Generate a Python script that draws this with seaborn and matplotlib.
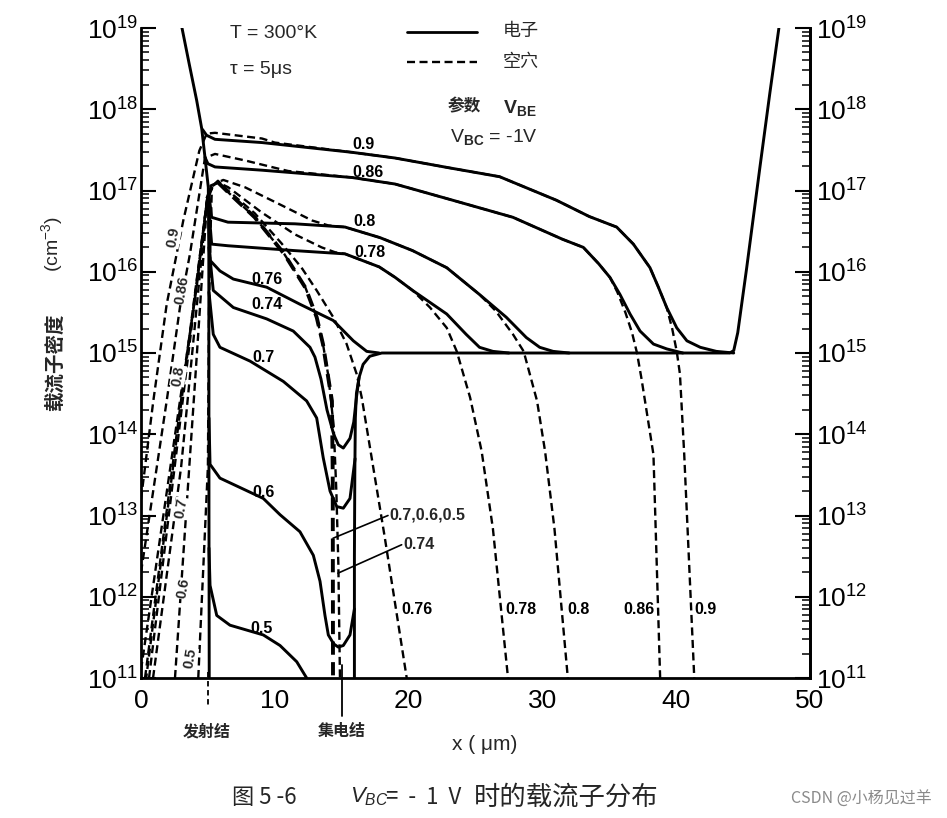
import numpy as np
import pandas as pd
import matplotlib
matplotlib.use("Agg")
import matplotlib.pyplot as plt
import matplotlib.transforms as mtransforms
from matplotlib.ticker import FixedLocator, FuncFormatter, NullFormatter
import seaborn as sns

# ---------------- data: x in micrometres, concentration as log10 exponent ----------------
# electrons (solid)
emitter_e_x = [3.04, 3.6, 4.16, 4.54, 4.78, 5.03, 5.07, 5.08, 5.1]
emitter_e_log = [19.02, 18.56, 18.11, 17.76, 17.41, 17.04, 16.2, 13.0, 10.9]

collector_e_x = [15.95, 15.95, 15.98, 16.02, 16.1, 16.3, 16.6, 17.1, 18.0, 44.0, 44.3, 44.6,
                 45.27, 46.26, 47.0, 47.76, 47.9]
collector_e_log = [10.9, 12.5, 13.5, 14.2, 14.5, 14.7, 14.86, 14.96, 15.0, 15.0, 15.03, 15.25,
                   16.05, 17.29, 18.2, 19.1, 19.3]

e090_x = [4.6, 4.9, 5.53, 9.04, 15.77, 18.98, 23.0, 26.8, 31.05, 33.5, 35.55, 36.8, 38.04, 38.67,
          39.29, 40.04, 40.8, 41.8, 43.0, 44.3]
e090_log = [17.75, 17.68, 17.63, 17.59, 17.47, 17.40, 17.28, 17.17, 16.88, 16.68, 16.55, 16.34,
            16.05, 15.81, 15.56, 15.31, 15.15, 15.07, 15.02, 15.0]

e086_x = [4.78, 5.0, 5.53, 9.04, 15.77, 18.98, 23.3, 27.8, 31.5, 33.06, 34.2, 35.05, 35.8, 36.55,
          37.3, 38.3, 39.3, 40.5]
e086_log = [17.41, 17.33, 17.29, 17.25, 17.16, 17.08, 16.88, 16.67, 16.40, 16.30, 16.1, 15.93,
            15.72, 15.48, 15.27, 15.11, 15.05, 15.0]

e080_x = [5.08, 5.28, 6.5, 11.5, 15.25, 17.86, 20.3, 22.85, 25.3, 27.3, 28.8, 29.8, 30.8, 32.0]
e080_log = [16.95, 16.67, 16.61, 16.59, 16.55, 16.42, 16.26, 16.05, 15.72, 15.44, 15.19, 15.07,
            15.02, 15.0]

e078_x = [5.08, 5.28, 6.5, 11.5, 15.25, 17.8, 19.0, 20.3, 22.85, 24.3, 25.3, 26.3, 27.5]
e078_log = [16.75, 16.34, 16.32, 16.26, 16.22, 16.06, 15.93, 15.77, 15.48, 15.23, 15.07, 15.02,
            15.0]

e076_x = [5.08, 5.16, 5.9, 6.9, 9.39, 11.88, 14.37, 15.87, 16.87, 17.8]
e076_log = [16.6, 16.14, 16.01, 15.91, 15.81, 15.60, 15.40, 15.15, 15.02, 15.0]

e074_x = [5.08, 5.4, 6.9, 9.39, 11.38, 12.63, 13.0, 13.45, 13.9, 14.4, 14.75, 15.12, 15.62, 15.9,
          16.1, 16.3]
e074_log = [16.3, 15.77, 15.56, 15.42, 15.27, 15.07, 14.95, 14.68, 14.3, 14.0, 13.87, 13.83, 13.95,
            14.15, 14.45, 14.7]

e070_x = [5.08, 5.4, 5.9, 8.15, 10.64, 12.38, 13.13, 13.62, 14.13, 14.63, 15.12, 15.62, 16.0]
e070_log = [15.75, 15.23, 15.07, 14.90, 14.65, 14.41, 14.2, 13.71, 13.30, 13.11, 13.09, 13.21, 13.7]

e060_x = [5.08, 5.16, 5.9, 9.14, 10.39, 11.88, 12.88, 13.38, 13.75, 14.0, 14.4, 14.75, 15.12,
          15.62, 15.95]
e060_log = [14.2, 13.63, 13.46, 13.21, 13.01, 12.80, 12.51, 12.19, 11.77, 11.53, 11.42, 11.38,
            11.40, 11.53, 11.85]

e050_x = [5.08, 5.16, 5.66, 6.65, 9.14, 10.39, 11.64, 12.38, 12.6]
e050_log = [12.6, 12.14, 11.77, 11.65, 11.53, 11.40, 11.2, 11.0, 10.9]

# holes (dashed)
h090_x = [0.0, 0.92, 1.92, 3.16, 4.36, 4.91, 5.53, 9.04, 10.0, 15.77, 18.98, 23.0, 26.8, 31.05,
          33.5, 35.55, 36.8, 38.04, 38.67, 39.29, 39.7, 40.04, 40.28, 40.6, 41.35, 41.45]
h090_log = [13.2, 14.41, 15.60, 16.63, 17.49, 17.70, 17.71, 17.64, 17.59, 17.47, 17.40, 17.28,
            17.17, 16.88, 16.68, 16.55, 16.34, 16.05, 15.81, 15.56, 15.30, 15.02, 14.74, 13.75,
            11.0, 10.7]

h086_x = [0.0, 1.92, 2.91, 3.66, 4.78, 5.53, 7.77, 10.24, 11.0, 15.77, 18.98, 23.3, 27.8, 31.5,
          33.06, 34.2, 35.05, 35.6, 36.2, 36.7, 37.07, 37.4, 38.3, 38.8, 38.9]
h086_log = [12.3, 14.41, 15.56, 16.22, 17.40, 17.45, 17.37, 17.27, 17.24, 17.16, 17.08, 16.88,
            16.67, 16.40, 16.30, 16.1, 15.93, 15.75, 15.50, 15.25, 15.0, 14.69, 13.75, 11.0, 10.7]

h080_x = [0.0, 2.91, 4.16, 4.95, 5.2, 6.15, 7.77, 10.24, 12.8, 14.0, 15.25, 17.86, 20.3, 22.85,
          25.3, 26.5, 27.8, 28.6, 29.6, 30.2, 30.9, 31.9, 32.0]
h080_log = [11.1, 14.41, 15.81, 16.9, 17.06, 17.13, 17.04, 16.84, 16.63, 16.57, 16.55, 16.42,
            16.26, 16.05, 15.72, 15.52, 15.23, 15.02, 14.41, 13.79, 12.84, 11.0, 10.8]

h078_x = [0.0, 4.95, 5.3, 5.75, 6.52, 9.02, 11.5, 13.5, 14.5, 15.25, 17.8, 19.0, 20.3, 21.6,
          22.85, 23.6, 24.6, 25.46, 26.3, 27.43, 27.5]
h078_log = [10.5, 16.9, 17.05, 17.1, 17.04, 16.73, 16.46, 16.30, 16.24, 16.22, 16.06, 15.93,
            15.77, 15.56, 15.31, 15.02, 14.45, 13.79, 12.84, 11.0, 10.9]

h076_x = [0.3, 4.95, 5.3, 5.75, 6.5, 8.5, 10.5, 12.0, 13.13, 14.37, 15.37, 16.12, 16.5, 18.2,
          19.86, 19.95]
h076_log = [11.0, 16.9, 17.05, 17.12, 17.0, 16.72, 16.35, 16.05, 15.77, 15.44, 15.11, 14.74,
            14.45, 12.75, 11.0, 10.9]

h074_x = [0.6, 4.95, 5.3, 5.75, 6.5, 8.5, 10.7, 12.3, 13.13, 13.6, 14.0, 14.4, 14.6, 14.75,
          14.87, 14.9]
h074_log = [11.0, 16.9, 17.05, 17.1, 16.98, 16.67, 16.22, 15.8, 15.44, 15.11, 14.72, 14.1, 13.3,
            12.4, 11.0, 10.8]

h_base_x = [4.95, 5.3, 5.75, 6.5, 8.5, 10.7, 12.3, 13.13, 13.6, 14.0, 14.27, 14.33, 14.35, 14.36]
h_base_log = [16.9, 17.05, 17.1, 16.98, 16.67, 16.22, 15.8, 15.44, 15.11, 14.69, 14.41, 13.5,
              11.0, 10.8]

h070_em_x = [0.9, 3.0, 4.95]
h070_em_log = [11.0, 13.6, 16.9]
h060_em_x = [2.54, 4.04, 4.95]
h060_em_log = [11.0, 14.65, 16.9]
h050_em_x = [4.28, 5.0, 5.08, 5.2, 5.3]
h050_em_log = [11.0, 13.6, 15.5, 16.5, 17.05]

vbe_labels = ["0.9", "0.86", "0.8", "0.78", "0.76", "0.74", "0.7", "0.6", "0.5"]
y_decades = [11, 12, 13, 14, 15, 16, 17, 18, 19]
x_ticks = [0, 10, 20, 30, 40, 50]
emitter_junction_x = 5
collector_junction_x = 15

# ---------------- style ----------------
sns.set_style("white")
plt.rcParams["font.family"] = ["Liberation Sans", "Noto Sans CJK SC", "DejaVu Sans"]
plt.rcParams["mathtext.fontset"] = "custom"
plt.rcParams["mathtext.rm"] = "Liberation Sans"
plt.rcParams["mathtext.it"] = "Liberation Sans:italic"
plt.rcParams["mathtext.bf"] = "Liberation Sans:bold"
plt.rcParams["axes.unicode_minus"] = False

CJK = ["Noto Sans CJK SC", "DejaVu Sans"]

W, H = 947, 818
fig = plt.figure(figsize=(W / 100, H / 100), dpi=100)
ax = fig.add_axes([141 / W, 1 - 678 / H, (810 - 141) / W, (678 - 28) / H])
ax.set_yscale("log")
ax.set_xlim(0, 50)
ax.set_ylim(10.0 ** 11, 10.0 ** 19)

DASH = (0, (3.4, 1.9))


def draw(xs, logs, dashed=False, lw=None):
    ys = [10.0 ** v for v in logs]
    if lw is None:
        lw = 1.7 if dashed else 2.1
    sns.lineplot(x=xs, y=ys, ax=ax, sort=False, estimator=None, color="black",
                 linewidth=lw, linestyle=DASH if dashed else "-")


# electrons
for xs, ls in [(emitter_e_x, emitter_e_log), (collector_e_x, collector_e_log),
               (e090_x, e090_log), (e086_x, e086_log), (e080_x, e080_log),
               (e078_x, e078_log), (e076_x, e076_log), (e074_x, e074_log),
               (e070_x, e070_log), (e060_x, e060_log), (e050_x, e050_log)]:
    draw(xs, ls)

# holes
for xs, ls in [(h090_x, h090_log), (h086_x, h086_log), (h080_x, h080_log),
               (h078_x, h078_log), (h076_x, h076_log), (h074_x, h074_log),
               (h070_em_x, h070_em_log), (h060_em_x, h060_em_log), (h050_em_x, h050_em_log)]:
    draw(xs, ls, dashed=True)
draw(h_base_x, h_base_log, dashed=True, lw=2.8)

# ---------------- axes ----------------
for side in ["left", "right", "bottom"]:
    ax.spines[side].set_linewidth(2.0)
    ax.spines[side].set_color("black")
ax.spines["top"].set_visible(False)

major = [10.0 ** d for d in y_decades]
minor = [m * 10.0 ** d for d in y_decades[:-1] for m in range(2, 10)]
fmt = FuncFormatter(lambda v, p: r"$10^{%d}$" % int(round(np.log10(v))))

ax.yaxis.set_major_locator(FixedLocator(major))
ax.yaxis.set_minor_locator(FixedLocator(minor))
ax.yaxis.set_major_formatter(fmt)
ax.yaxis.set_minor_formatter(NullFormatter())
ax.tick_params(axis="y", which="major", direction="in", length=11, width=1.5, labelsize=19, pad=2,
               colors="black")
ax.tick_params(axis="y", which="minor", direction="in", length=5.5, width=1.3)

ax.xaxis.set_major_locator(FixedLocator(x_ticks))
ax.tick_params(axis="x", which="major", direction="in", length=10, width=1.5, labelsize=19, pad=8,
               colors="black")
ax.set_xticklabels([str(t) for t in x_ticks])

ax2 = ax.twinx()
ax2.set_yscale("log")
ax2.set_ylim(10.0 ** 11, 10.0 ** 19)
ax2.yaxis.set_major_locator(FixedLocator(major))
ax2.yaxis.set_minor_locator(FixedLocator(minor))
ax2.yaxis.set_major_formatter(fmt)
ax2.yaxis.set_minor_formatter(NullFormatter())
ax2.tick_params(axis="y", which="major", direction="in", length=11, width=1.5, labelsize=19, pad=4,
                colors="black")
ax2.tick_params(axis="y", which="minor", direction="in", length=5.5, width=1.3)
for side in ["top", "left", "bottom"]:
    ax2.spines[side].set_visible(False)
ax2.spines["right"].set_linewidth(2.0)
ax2.spines["right"].set_color("black")
ax.grid(False)
ax2.grid(False)

# ---------------- curve labels ----------------
lab_kw = dict(fontsize=11.5, fontweight="bold", ha="center", va="center", color="black")
base_labels = [(16.6, 17.57), (17.0, 17.22), (16.74, 16.62), (17.1, 16.24), (9.39, 15.91),
               (9.39, 15.60), (9.14, 14.94), (9.14, 13.28), (9.02, 11.61)]
for s, (lx, ly) in zip(vbe_labels, base_labels):
    ax.text(lx, 10.0 ** ly, s, **lab_kw)

bottom_labels = [("0.76", 20.6), ("0.78", 28.4), ("0.8", 32.7), ("0.86", 37.2), ("0.9", 42.2)]
for s, lx in bottom_labels:
    ax.text(lx, 10.0 ** 11.84, s, **lab_kw)

ax.text(18.6, 10.0 ** 13.01, "0.7,0.6,0.5", fontsize=11.5, fontweight="bold", ha="left",
        va="center")
ax.text(19.6, 10.0 ** 12.64, "0.74", fontsize=11.5, fontweight="bold", ha="left", va="center")
ax.plot([14.35, 18.46], [10.0 ** 12.72, 10.0 ** 13.0], color="black", lw=1.2)
ax.plot([14.72, 19.48], [10.0 ** 12.29, 10.0 ** 12.64], color="black", lw=1.2)

rot_labels = [("0.9", 2.39, 16.42), ("0.86", 3.04, 15.77), ("0.8", 2.79, 14.72),
              ("0.7", 3.04, 13.09), ("0.6", 3.16, 12.10), ("0.5", 3.66, 11.24)]
for s, lx, ly in rot_labels:
    ax.text(lx, 10.0 ** ly, s, fontsize=10.5, fontweight="bold", rotation=80, ha="center",
            va="center", bbox=dict(fc="white", ec="none", pad=0.3))

# junction markers
trans = mtransforms.blended_transform_factory(ax.transData, ax.transAxes)
ax.plot([emitter_junction_x] * 2, [0.01, -0.042], transform=trans, color="black", lw=1.3,
        linestyle=(0, (3, 2)), clip_on=False)
ax.plot([collector_junction_x] * 2, [0.02, -0.058], transform=trans, color="black", lw=1.3,
        clip_on=False)


# ---------------- annotation texts (figure pixel positions) ----------------
def fx(px):
    return px / W


def fy(py):
    return 1 - py / H


fig.text(fx(230), fy(34), "T = 300°K", fontsize=14, ha="left", va="center")
fig.text(fx(230), fy(70), "τ = 5μs", fontsize=14, ha="left", va="center")
fig.lines.append(plt.Line2D([fx(407), fx(477)], [fy(32), fy(32)], transform=fig.transFigure,
                            color="black", lw=2.0))
fig.lines.append(plt.Line2D([fx(407), fx(477)], [fy(62), fy(62)], transform=fig.transFigure,
                            color="black", lw=1.7, linestyle=DASH))
fig.text(fx(503), fy(31), "电子", fontsize=13, ha="left", va="center", family=CJK)
fig.text(fx(503), fy(62), "空穴", fontsize=13, ha="left", va="center", family=CJK)
fig.text(fx(448), fy(106), "参数", fontsize=12, fontweight="bold", ha="left", va="center",
         family=CJK)
fig.text(fx(503), fy(108), r"V$_{\mathbf{BE}}$", fontsize=14, fontweight="bold", ha="left",
         va="center")
fig.text(fx(450), fy(137), r"V$_{\mathbf{BC}}$ = -1V", fontsize=14, ha="left", va="center")

fig.text(fx(55), fy(362), "载流子密度", fontsize=14, fontweight="bold", rotation=90,
         ha="center", va="center", family=CJK)
fig.text(fx(52), fy(244), r"(cm$^{-3}$)", fontsize=14, rotation=90, ha="center", va="center")

fig.text(fx(485), fy(744), "x ( μm)", fontsize=15, ha="center", va="center")
fig.text(fx(207), fy(731), "发射结", fontsize=11.5, fontweight="bold", ha="center", va="center",
         family=CJK)
fig.text(fx(342), fy(731), "集电结", fontsize=11.5, fontweight="bold", ha="center", va="center",
         family=CJK)

fig.text(fx(232), fy(797), "图 5 -6", fontsize=16, ha="left", va="center", family=CJK)
fig.text(fx(350), fy(797), r"$V_{BC}$", fontsize=16, ha="left", va="center")
fig.text(fx(386), fy(797), "=  -  1  V", fontsize=16, ha="left", va="center", family=CJK)
fig.text(fx(474), fy(797), "时的载流子分布", fontsize=19, ha="left", va="center", family=CJK)
fig.text(fx(932), fy(799), "CSDN @小杨见过羊", fontsize=11.5, color="#8a8a8a", ha="right",
         va="center", family=CJK)

fig.savefig("out.png", dpi=100)
